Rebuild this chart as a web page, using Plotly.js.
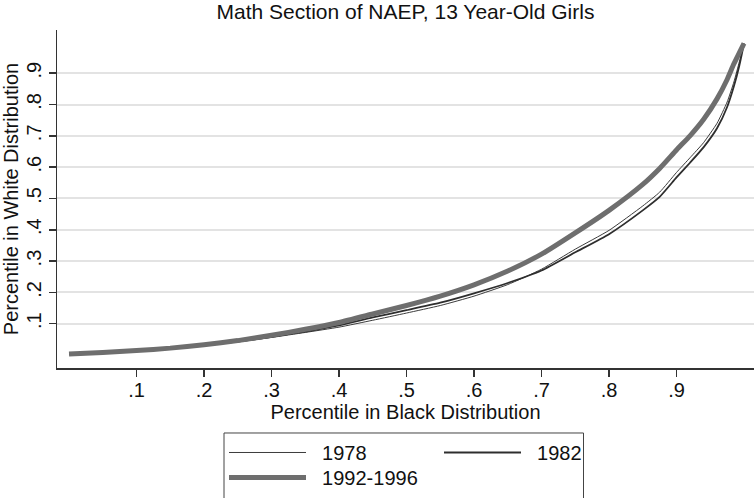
<!DOCTYPE html>
<html>
<head>
<meta charset="utf-8">
<script src="https://cdn.plot.ly/plotly-3.0.1.min.js"></script>
<style>
html,body{margin:0;padding:0;background:#fff;}
#chart{width:754px;height:498px;}
</style>
</head>
<body>
<div id="chart"></div>
<script>
// Percentile in Black distribution (x) and Percentile in White distribution (y)
const pctBlack = [0.00, 0.05, 0.10, 0.15, 0.20, 0.25, 0.30, 0.35, 0.40, 0.45, 0.50, 0.55, 0.60, 0.65, 0.70, 0.75, 0.80, 0.85, 0.875, 0.90, 0.92, 0.94, 0.96, 0.975, 0.985, 0.993, 1.00];

const white1978 = [0.003, 0.007, 0.013, 0.020, 0.030, 0.042, 0.056, 0.072, 0.089, 0.111, 0.134, 0.158, 0.188, 0.225, 0.274, 0.338, 0.398, 0.476, 0.520, 0.583, 0.630, 0.678, 0.740, 0.808, 0.872, 0.936, 0.995];
const white1982 = [0.003, 0.007, 0.013, 0.020, 0.031, 0.043, 0.058, 0.075, 0.095, 0.120, 0.143, 0.167, 0.197, 0.230, 0.270, 0.328, 0.386, 0.462, 0.505, 0.567, 0.614, 0.663, 0.724, 0.792, 0.858, 0.924, 0.995];
const white1992 = [0.003, 0.008, 0.014, 0.022, 0.033, 0.046, 0.063, 0.082, 0.104, 0.131, 0.158, 0.188, 0.224, 0.268, 0.322, 0.390, 0.462, 0.545, 0.596, 0.655, 0.700, 0.752, 0.818, 0.880, 0.930, 0.965, 0.995];

const seriesNames = ['1978', '1982', '1992-1996'];
const tickVals = [0.1, 0.2, 0.3, 0.4, 0.5, 0.6, 0.7, 0.8, 0.9];
const tickText = ['.1', '.2', '.3', '.4', '.5', '.6', '.7', '.8', '.9'];

const FONT = 'Liberation Sans, Arial, sans-serif';
const GAP = '\u00a0\u00a0';

const traces = [
  {x: pctBlack, y: white1978, name: GAP + seriesNames[0], type: 'scatter', mode: 'lines',
   line: {color: '#3c3c3c', width: 1, shape: 'spline', smoothing: 0.5}, legend: 'legend'},
  {x: pctBlack, y: white1982, name: GAP + seriesNames[1], type: 'scatter', mode: 'lines',
   line: {color: '#2e2e2e', width: 1.8, shape: 'spline', smoothing: 0.5}, legend: 'legend'},
  {x: pctBlack, y: white1992, name: GAP + seriesNames[2], type: 'scatter', mode: 'lines',
   line: {color: '#6e6e6e', width: 5, shape: 'spline', smoothing: 0.5}, legend: 'legend2'}
];

const layout = {
  width: 754, height: 498,
  margin: {l: 57, r: 0, t: 30, b: 130},
  paper_bgcolor: '#fff', plot_bgcolor: '#fff',
  font: {family: FONT, color: '#111', size: 20},
  title: {text: 'Math Section of NAEP, 13 Year-Old Girls', font: {size: 21, color: '#111'},
          x: 0.5, xref: 'paper', xanchor: 'center', y: 0.976, yref: 'container', yanchor: 'middle'},
  xaxis: {range: [-0.0178, 1.0148], tickvals: tickVals, ticktext: tickText,
          showgrid: false, zeroline: false, showline: true, linecolor: '#333', linewidth: 1.5,
          ticks: 'outside', ticklen: 7, tickwidth: 1.5, tickcolor: '#333', ticklabelstandoff: -4,
          tickfont: {size: 20, color: '#111'},
          title: {text: 'Percentile in Black Distribution', font: {size: 20, color: '#111'}, standoff: 0}},
  yaxis: {range: [-0.0415, 1.038], tickvals: tickVals, ticktext: tickText, tickangle: -90,
          showgrid: true, gridcolor: '#e3e3e3', gridwidth: 2, zeroline: false,
          showline: true, linecolor: '#333', linewidth: 1.5,
          ticks: 'outside', ticklen: 7, tickwidth: 1.5, tickcolor: '#333',
          tickfont: {size: 20, color: '#111'},
          title: {text: 'Percentile in White Distribution', font: {size: 20, color: '#111'}, standoff: 4}},
  showlegend: true,
  legend: {orientation: 'h', x: 0.2396, xanchor: 'left', y: -0.1923, yanchor: 'top',
           bgcolor: 'rgba(0,0,0,0)', borderwidth: 0, itemwidth: 77, entrywidth: 123,
           font: {size: 20, color: '#111'}},
  legend2: {orientation: 'h', x: 0.2396, xanchor: 'left', y: -0.2663, yanchor: 'top',
           bgcolor: 'rgba(0,0,0,0)', borderwidth: 0, itemwidth: 77,
           font: {size: 20, color: '#111'}},
  shapes: [{type: 'rect', xref: 'paper', yref: 'paper', x0: 0.2396, x1: 0.7554, y0: -0.1923, y1: -0.40,
            line: {color: '#444', width: 1}, fillcolor: 'rgba(0,0,0,0)', layer: 'below'}]
};

Plotly.newPlot('chart', traces, layout, {staticPlot: true, displayModeBar: false});
</script>
</body>
</html>
